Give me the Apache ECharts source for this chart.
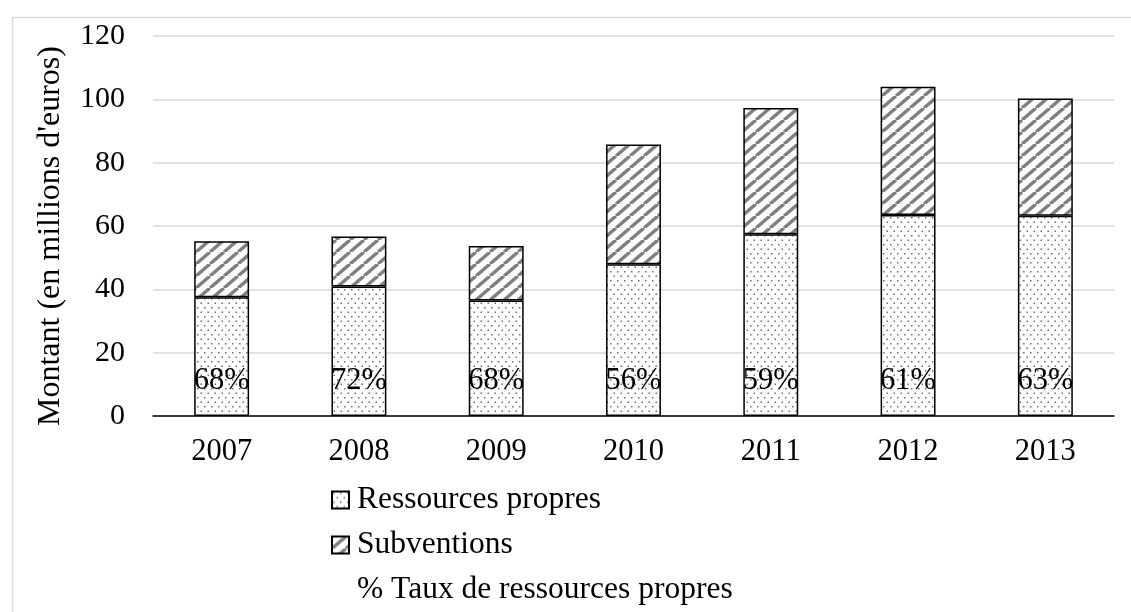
<!DOCTYPE html>
<html>
<head>
<meta charset="utf-8">
<script src="https://cdn.jsdelivr.net/npm/echarts@6/dist/echarts.min.js"></script>
<style>
html,body{margin:0;padding:0;background:#fff;}
#chart{width:1131px;height:612px;}
</style>
</head>
<body>
<div id="chart"></div>
<script>
var years = ['2007','2008','2009','2010','2011','2012','2013'];
var ressourcesPropres = [37.5, 40.9, 36.5, 47.9, 57.4, 63.5, 63.2];
var subventions = [17.7, 15.8, 17.2, 37.8, 39.9, 40.5, 37.1];
var tauxRessources = [68, 72, 68, 56, 59, 61, 63];
var yTicks = {min: 0, max: 120, interval: 20};
var seriesNames = ['Ressources propres', 'Subventions', '% Taux de ressources propres'];

var FONT = '"Liberation Serif", "Times New Roman", serif';

function dotPattern() {
  var c = document.createElement('canvas');
  c.width = 7; c.height = 9;
  var g = c.getContext('2d');
  g.fillStyle = '#ffffff';
  g.fillRect(0, 0, 7, 9);
  g.fillStyle = '#6e6e6e';
  g.fillRect(1, 1, 1.5, 1.5);
  g.fillRect(4.5, 5.5, 1.5, 1.5);
  return c;
}
function hatchPattern() {
  var w = 14, h = 12;
  var c = document.createElement('canvas');
  c.width = w; c.height = h;
  var g = c.getContext('2d');
  g.fillStyle = '#ffffff';
  g.fillRect(0, 0, w, h);
  g.strokeStyle = '#808080';
  g.lineWidth = 3.5;
  g.beginPath();
  g.moveTo(0, h); g.lineTo(w, 0);
  g.moveTo(-w, h); g.lineTo(0, 0);
  g.moveTo(w, h); g.lineTo(2 * w, 0);
  g.stroke();
  return c;
}

var chart = echarts.init(document.getElementById('chart'), null, {renderer: 'canvas'});
chart.setOption({
  animation: false,
  backgroundColor: '#ffffff',
  graphic: [{
    type: 'rect', left: 10, top: 15, silent: true,
    shape: {width: 1200, height: 700},
    style: {fill: 'none', stroke: '#d9d9d9', lineWidth: 1.5}
  }],
  grid: {left: 153, right: 17, top: 36, bottom: 196},
  legend: {
    orient: 'vertical', left: 331, top: 484, padding: 0,
    itemWidth: 17, itemHeight: 17, itemGap: 13,
    textStyle: {fontFamily: FONT, fontSize: 31.5, color: '#000', lineHeight: 30, padding: [0, 0, 0, 3]},
    data: [
      {name: seriesNames[0], icon: 'rect'},
      {name: seriesNames[1], icon: 'rect'},
      {name: seriesNames[2], icon: 'rect', itemStyle: {opacity: 0}}
    ]
  },
  xAxis: {
    type: 'category', data: years,
    axisLine: {lineStyle: {color: '#000', width: 1.5}},
    axisTick: {show: false},
    axisLabel: {fontFamily: FONT, fontSize: 30.5, color: '#000', margin: 20}
  },
  yAxis: {
    type: 'value', min: yTicks.min, max: yTicks.max, interval: yTicks.interval,
    name: "Montant (en millions d'euros)",
    nameLocation: 'middle', nameRotate: 90, nameGap: 86,
    nameTextStyle: {fontFamily: FONT, fontSize: 32, color: '#000', padding: [0, 20, 0, 0]},
    axisLine: {show: false}, axisTick: {show: false},
    axisLabel: {fontFamily: FONT, fontSize: 30, color: '#000', margin: 28},
    splitLine: {lineStyle: {color: '#d9d9d9', width: 1.5}}
  },
  series: [
    {
      name: seriesNames[0], type: 'bar', stack: 'total', barWidth: '40%',
      data: ressourcesPropres,
      itemStyle: {color: {image: dotPattern(), repeat: 'repeat'}, borderColor: '#000', borderWidth: 1.5},
      label: {
        show: true, position: 'insideBottom', distance: 20,
        fontFamily: FONT, fontSize: 30.5, color: '#000',
        formatter: function (p) { return tauxRessources[p.dataIndex] + '%'; }
      }
    },
    {
      name: seriesNames[1], type: 'bar', stack: 'total', barWidth: '40%',
      data: subventions,
      itemStyle: {color: {image: hatchPattern(), repeat: 'repeat'}, borderColor: '#000', borderWidth: 1.5}
    },
    {
      name: seriesNames[2], type: 'line', data: [], symbol: 'none',
      lineStyle: {opacity: 0}, itemStyle: {opacity: 0}
    }
  ]
});
</script>
</body>
</html>
